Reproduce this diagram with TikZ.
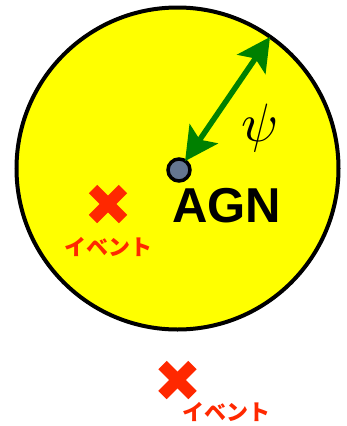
\documentclass[tikz,border=0pt]{standalone}
\usepackage{fontspec}
\usepackage{graphicx}
\setmainfont{Liberation Sans}
\newfontfamily\jpfont{Noto Sans CJK JP}
\usetikzlibrary{arrows.meta}
\definecolor{evred}{RGB}{255,40,0}
\definecolor{agngray}{RGB}{100,118,143}
\definecolor{arrgreen}{RGB}{0,128,0}
\definecolor{regyellow}{RGB}{255,255,0}
\tikzset{
  evx/.style={line width=12pt, evred, line cap=butt},
  evlabel/.style={text=evred, font=\jpfont\fontsize{22}{24}\selectfont\bfseries, inner sep=0pt},
}
\begin{document}
\begin{tikzpicture}[x=1pt,y=-1pt]
\useasboundingbox (0,0) rectangle (346,426);
\node[circle, draw=black, line width=4pt, fill=regyellow, minimum size=322pt, inner sep=0pt] (region) at (177.5,168.5) {};
\coordinate (rim) at (270,37);
\node[circle, draw=black, line width=3.5pt, fill=agngray, minimum size=22pt, inner sep=0pt] (agn) at (179,170) {};
\draw[arrgreen, line width=5.5pt, {Stealth[length=33pt,width=34pt,inset=7pt]}-{Stealth[length=33pt,width=34pt,inset=7pt]}, shorten <=-2pt] (agn) -- (rim);
\node[inner sep=0pt] (psi) at (260,128) {\scalebox{5.4}{$\psi$}};
\node[inner sep=0pt, font=\fontsize{49}{55}\selectfont\bfseries, anchor=base] (agnlabel) at (226.5,222) {AGN};
% event 1
\coordinate (e1) at (108,204);
\draw[evx] ([shift={(-15,-15)}]e1) -- ([shift={(15,15)}]e1);
\draw[evx] ([shift={(-15,15)}]e1) -- ([shift={(15,-15)}]e1);
\node[evlabel] (ev1) at (108,247) {イベント};
% event 2
\coordinate (e2) at (177.5,380);
\draw[evx] ([shift={(-15,-15)}]e2) -- ([shift={(15,15)}]e2);
\draw[evx] ([shift={(-15,15)}]e2) -- ([shift={(15,-15)}]e2);
\node[evlabel] (ev2) at (226,412) {イベント};
\end{tikzpicture}
\end{document}
